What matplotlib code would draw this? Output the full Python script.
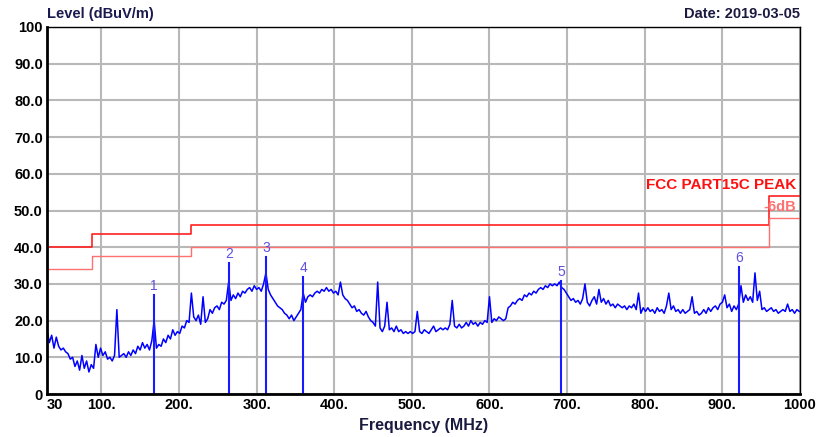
import numpy as np
import matplotlib
matplotlib.use("Agg")
import matplotlib.pyplot as plt

matplotlib.rcParams.update({'font.family': 'Liberation Sans', 'font.size': 10})

# measured level (dBuV/m), one reading every 3 MHz starting at 30 MHz
level = [
    17.5, 14, 16, 12.5, 15.5, 13, 12, 12.5, 11.5, 11,
    9.5, 10, 7.5, 9, 6.5, 10.5, 7, 9, 6, 8,
    7, 13.5, 10, 12.5,
    10.5, 11.5, 9.5, 10, 9, 10.5, 23, 10, 10.5, 11,
    10, 11.5, 10.5, 12, 11, 13, 12, 14, 12.5, 13.5,
    12, 14.5, 20, 12.5, 13.5, 13, 15, 14, 16, 15,
    17.5, 16, 17,
    16.5, 18.5, 18, 20, 19.5, 27.5, 21, 20, 21.5, 19,
    26.5, 19.5, 20.5, 23, 22, 23.5, 24, 23, 25, 24.5,
    25.5, 30.5, 25.5, 27, 26, 27.5, 26.5, 28, 27.5, 28.5,
    29, 28, 29.5, 28.5,
    29, 28, 30, 33, 28.5, 27, 26, 25, 24, 23.5,
    23, 22, 21.5, 20.5, 21.5, 20, 21, 22, 23, 27.5,
    25, 26.5, 27, 26.5, 27.5, 28, 27.5, 28.5, 28, 29,
    28, 28.5, 27.5,
    28, 27, 30.5, 27, 26, 25.5, 24.5, 23.5, 24, 22.5,
    23, 22, 21.5, 22.5, 21, 20, 19.5, 18.5, 30.5, 18,
    17, 18.5, 25, 17.5, 18, 17, 18.5, 17, 17.5, 16.5,
    17, 16.5, 17,
    16.5, 17, 22.5, 17, 16.5, 17.5, 17, 16.5, 17.5, 18.5,
    17, 17.5, 18, 17.5, 18, 17.5, 19, 25.5, 18.5, 18,
    19, 18, 18.5, 19.5, 18.5, 20, 19, 19.5, 18.5, 19.5,
    19, 20, 19.5, 26.5,
    19.5, 20.5, 20, 21, 20.5, 20, 20.5, 23.5, 24, 25,
    24.5, 25.5, 26, 25.5, 27, 26.5, 27.5, 27, 28, 27.5,
    28.5, 29, 28.5, 29.5, 29, 30, 29.5, 30, 29.5, 30.5,
    29, 28.5, 27.5,
    26.5, 25.5, 26, 25, 25.5, 24.5, 26, 30, 25, 24,
    25.5, 26.5, 24.5, 28.5, 25, 26, 24.5, 25.5, 24, 24.5,
    23.5, 24.5, 24, 23.5, 24, 23, 24, 23.5, 24.5, 23,
    27.5, 22, 23.5,
    22.5, 23.5, 22.5, 23, 22, 23.5, 22.5, 23, 22, 24,
    27.5, 23, 24, 22.5, 23, 22, 23, 22, 22.5, 23,
    26.5, 22, 22.5, 21.5, 22, 23, 22, 23.5, 22.5, 23.5,
    24, 23, 24.5,
    25, 27, 23.5, 24.5, 22.5, 24, 23, 24.5, 29.5, 25,
    27, 25.5, 26.5, 25, 33, 25.5, 28, 23, 23.5, 22.5,
    23, 23.5, 22.5, 23, 22, 22.5, 23, 22.5, 24.5, 22.5,
    23, 22, 23, 22.5,
]
freq = np.arange(len(level)) * 3 + 30

# FCC part 15C peak limit and the -6 dB line
lim_f    = [30, 88, 216, 960, 1000]
lim_peak = [40, 43.5, 46, 54, 54]
lim_6db  = [34, 37.5, 40, 48, 48]

# marker readings
mk_id    = ['1', '2', '3', '4', '5', '6']
mk_f     = [168, 265, 312, 360, 692, 922]
mk_level = [27.0, 35.7, 37.3, 32.0, 30.9, 34.7]

xticks      = [30, 100, 200, 300, 400, 500, 600, 700, 800, 900, 1000]
xticklabels = ['30', '100.', '200.', '300.', '400.', '500.', '600.', '700.', '800.', '900.', '1000']
yticks      = [0, 10, 20, 30, 40, 50, 60, 70, 80, 90, 100]
yticklabels = ['0', '10.0', '20.0', '30.0', '40.0', '50.0', '60.0', '70.0', '80.0', '90.0', '100']

fig = plt.figure(figsize=(8.16, 4.37), dpi=100)
ax = fig.add_axes([47/816, 1 - 394/437, 753/816, 367/437])

ax.plot(freq, level, c='#0000ff', lw=1.1)
ax.step(lim_f, lim_peak, where='post', c='#ff2020', lw=1.2)
ax.step(lim_f, lim_6db, where='post', c='#ff7070', lw=1)

for n, f, v in zip(mk_id, mk_f, mk_level):
    ax.plot([f, f], [0, v], c='#1a1aff', lw=1.5)
    ax.text(f, v + 0.5, n, color='#6050e0', fontsize=10, ha='center', va='bottom')

ax.text(995, 55, 'FCC PART15C PEAK', color='#ff1010', fontsize=11, fontweight='bold', ha='right', va='bottom')
ax.text(995, 49, '-6dB', color='#ff7070', fontsize=10.5, fontweight='bold', ha='right', va='bottom')

ax.set_xlim(30, 1000)
ax.set_ylim(0, 100)
ax.set_xticks(xticks)
ax.set_xticklabels(xticklabels, fontweight='bold', fontsize=10.5)
ax.get_xticklabels()[0].set_horizontalalignment('left')
ax.set_yticks(yticks)
ax.set_yticklabels(yticklabels, fontweight='bold', fontsize=10.5)
ax.tick_params(length=0, pad=3)
ax.grid(True, color='#b8b8b8', lw=1.5)
ax.set_axisbelow(True)
for s in ax.spines.values():
    s.set_color('black')
    s.set_linewidth(1)
ax.spines['left'].set_linewidth(2)
ax.spines['bottom'].set_linewidth(2)

ax.set_xlabel('Frequency (MHz)', fontweight='bold', fontsize=11.5, color='#1a1a40', labelpad=4)
fig.text(47/816, 1 - 14/437, 'Level (dBuV/m)', fontweight='bold', fontsize=10.5, color='#1a1a50', ha='left', va='center')
fig.text(800/816, 1 - 14/437, 'Date: 2019-03-05', fontweight='bold', fontsize=10.5, color='#1a1a40', ha='right', va='center')

plt.savefig('out.png', dpi=100)
